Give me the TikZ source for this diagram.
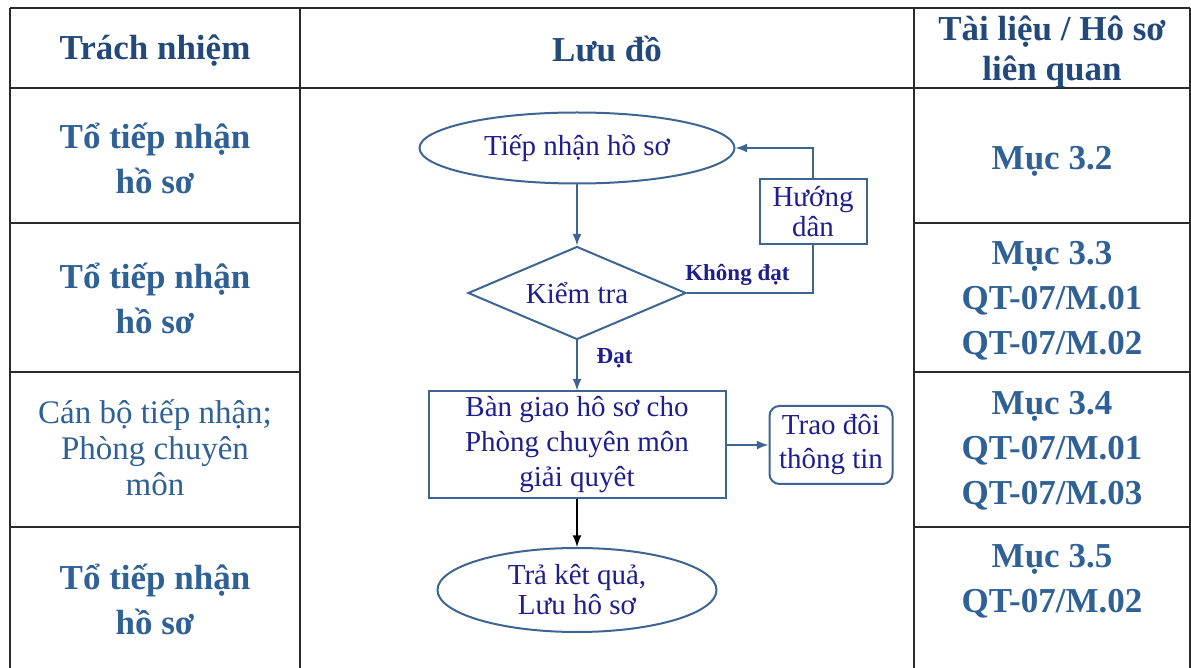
\documentclass[tikz,border=0pt]{standalone}
\usepackage{fontspec}
\setmainfont{Liberation Serif}
\usetikzlibrary{shapes.geometric}
\definecolor{xanh}{HTML}{2F6196}
\definecolor{xanhdam}{HTML}{23497A}
\definecolor{chu}{HTML}{1E1E8C}
\definecolor{vien}{HTML}{3C6594}
\definecolor{ke}{HTML}{2A2A2A}

\begin{document}
\begin{tikzpicture}[>=latex, x=0.5pt, y=-0.5pt,
	bang/.style={draw=ke, line width=1pt},
	tieude/.style={font=\fontsize{17.5}{20}\selectfont\bfseries, text=xanhdam, align=center},
	cot/.style={font=\fontsize{17.5}{22.5}\selectfont\bfseries, text=xanh, align=center},
	cotthuong/.style={font=\fontsize{16.5}{18}\selectfont, text=xanh, align=center},
	hinh/.style={draw=vien, line width=1pt, text=chu, align=center, inner sep=0pt,
		font=\fontsize{14.5}{17.5}\selectfont},
	nhan/.style={font=\fontsize{11.5}{13}\selectfont\bfseries, text=chu},
	noi/.style={draw=vien, line width=1pt}]
			%%%	Help Lines
%			\draw [thin, help lines, step=50] (0,0) grid (1191,668);
			\useasboundingbox (0,0) rectangle (1191,668);
			%%%	Bang
			\draw[bang, line width=1.2pt] (10,8) -- (1190,8);
			\draw[bang] (10,88) -- (1190,88);
			\foreach \x in {10,300,914,1190}
			\draw[bang] (\x,8) -- (\x,668);
			\foreach \y in {223,372,527}
			{\draw[bang] (10,\y) -- (300,\y);
			\draw[bang] (914,\y) -- (1190,\y);}
			%%%	Tieu de
			\node[tieude] (trachnhiem) at (155,51) {Trách nhiệm};
			\node[tieude] (luudo) at (607,49) {Lưu đồ};
			\node[tieude] (tailieu) at (1052,52) {Tài liệu / Hô sơ\\liên quan};
			%%%	Trach nhiem
			\node[cot] (tonhan1) at (155,158) {Tổ tiếp nhận\\hồ sơ};
			\node[cot] (tonhan2) at (155,298) {Tổ tiếp nhận\\hồ sơ};
			\node[cotthuong] (canbo) at (155,448) {Cán bộ tiếp nhận;\\Phòng chuyên\\môn};
			\node[cot] (tonhan4) at (155,599) {Tổ tiếp nhận\\hồ sơ};
			%%%	Tai lieu
			\node[cot] (muc32) at (1052,161) {Mục 3.2};
			\node[cot] (muc33) at (1052,301) {Mục 3.3\\QT-07/M.01\\QT-07/M.02};
			\node[cot] (muc34) at (1052,451) {Mục 3.4\\QT-07/M.01\\QT-07/M.03};
			\node[cot] (muc35) at (1052,581) {Mục 3.5\\QT-07/M.02};
			%%%	Luu do
			\node[hinh, ellipse, minimum width=157.5pt, minimum height=35.5pt] (tiepnhan) at (577,148) {Tiếp nhận hồ sơ};
			\node[hinh, diamond, aspect=2.34, minimum width=109pt, minimum height=46.5pt] (kiemtra) at (577,293) {Kiểm tra};
			\node[hinh, minimum width=53.5pt, minimum height=32.5pt, font=\fontsize{14.5}{15}\selectfont] (huongdan) at (813,212) {Hướng\\dân};
			\node[hinh, minimum width=148.5pt, minimum height=53.5pt] (bangiao) at (577,445) {Bàn giao hô sơ cho\\Phòng chuyên môn\\giải quyêt};
			\node[hinh, rounded corners=5pt, minimum width=61.5pt, minimum height=39pt, font=\fontsize{14.5}{17}\selectfont] (traodoi) at (831,445) {Trao đôi\\thông tin};
			\node[hinh, ellipse, minimum width=139.5pt, minimum height=42pt, font=\fontsize{14.5}{15}\selectfont] (trakq) at (577,590) {Trả kêt quả,\\Lưu hô sơ};
			\draw[noi, ->] (tiepnhan.south) -- (kiemtra.north);
			\draw[noi] (kiemtra.east) -| node[nhan, above, pos=0.2] {Không đạt} (huongdan.south);
			\draw[noi, ->] (huongdan.north) |- (tiepnhan.east);
			\draw[noi, ->] (kiemtra.south) -- node[nhan, right=6pt, pos=0.35] {Đạt} (bangiao.north);
			\draw[noi, ->] (bangiao.east) -- (traodoi.west);
			\draw[line width=1pt, ->] (bangiao.south) -- (trakq.north);
		\end{tikzpicture}
\end{document}
